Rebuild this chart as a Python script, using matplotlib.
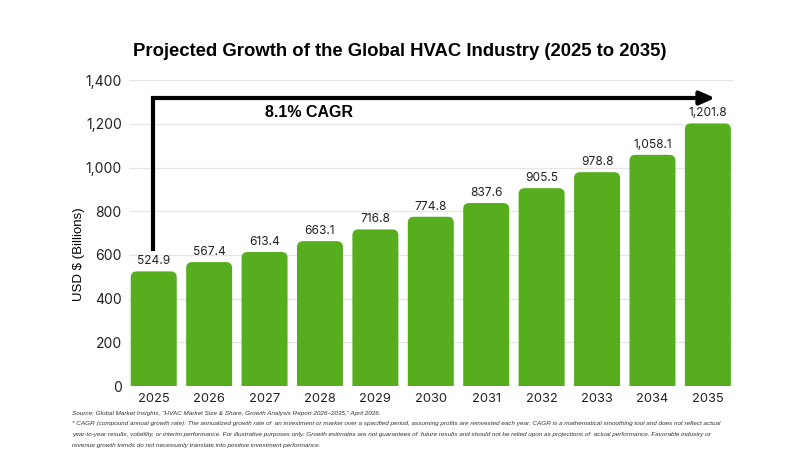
import matplotlib.pyplot as plt
from matplotlib.patches import FancyBboxPatch
from matplotlib.ticker import FuncFormatter, MultipleLocator

# data
years = ["2025", "2026", "2027", "2028", "2029", "2030",
         "2031", "2032", "2033", "2034", "2035"]
market_size = [524.9, 567.4, 613.4, 663.1, 716.8, 774.8,
               837.6, 905.5, 978.8, 1058.1, 1201.8]
cagr_label = "8.1% CAGR"
title = "Projected Growth of the Global HVAC Industry (2025 to 2035)"
source_note = 'Source: Global Market Insights, "HVAC Market Size & Share, Growth Analysis Report 2026\u20132035," April 2026.'
cagr_note = ("* CAGR (compound annual growth rate): The annualized growth rate of  an investment or market over a specified period, "
             "assuming profits are reinvested each year. CAGR is a mathematical smoothing tool and does not reflect actual\n"
             "year-to-year results, volatility, or interim performance. For illustrative purposes only. Growth estimates are not "
             "guarantees of  future results and should not be relied upon as projections of  actual performance. Favorable industry or\n"
             "revenue growth trends do not necessarily translate into positive investment performance.")

bar_color = "#56ad1e"
num_font = "Inter"

fig = plt.figure(figsize=(8, 4.5), dpi=100)
ax = fig.add_axes([0.161, 0.142, 0.755, 0.680])

x = list(range(len(years)))
width = 0.83
ymax = 1400

# bars with rounded tops (bottom clipped by the axes)
for xi, v in zip(x, market_size):
    p = FancyBboxPatch((xi - width / 2, -60), width, v + 60,
                       boxstyle="round,pad=0,rounding_size=0.11",
                       mutation_aspect=250, facecolor=bar_color,
                       edgecolor="none", zorder=3)
    ax.add_patch(p)
    ax.annotate(f"{v:,.1f}", (xi, v), xytext=(0, 3), textcoords="offset points",
                ha="center", va="bottom", fontsize=8.6, family=num_font,
                color="#222222", zorder=4)

ax.set_xlim(-0.45, len(years) - 0.55)
ax.set_ylim(0, ymax)
ax.set_xticks(x)
ax.set_xticklabels(years, family=num_font, fontsize=9.3)
ax.yaxis.set_major_locator(MultipleLocator(200))
ax.yaxis.set_major_formatter(FuncFormatter(lambda v, _: f"{v:,.0f}"))
for lbl in ax.get_yticklabels():
    lbl.set_family(num_font)
    lbl.set_fontsize(10)
ax.tick_params(length=0, pad=5, colors="#222222")
ax.grid(axis="y", color="#e6e6e6", linewidth=1, zorder=0)
for s in ax.spines.values():
    s.set_visible(False)

ax.set_ylabel("USD $ (Billions)", family="Liberation Sans", fontsize=9.5)
ax.yaxis.set_label_coords(-0.073, 0.43)

# CAGR arrow
ax.plot([-0.02, -0.02, 10.0], [620, 1318, 1318], color="black", lw=3,
        solid_joinstyle="miter", solid_capstyle="butt", zorder=5, clip_on=False)
ax.annotate("", xy=(10.18, 1318), xytext=(9.85, 1318),
            arrowprops=dict(arrowstyle="-|>,head_length=0.9,head_width=0.4",
                            color="black", lw=3), annotation_clip=False, zorder=5)
ax.text(2.8, 1250, cagr_label, ha="center", va="center", fontsize=11.5,
        fontweight="bold", family="Liberation Sans")

fig.text(0.5, 0.885, title, ha="center", va="center", fontsize=13.3,
         fontweight="bold", family="Liberation Sans")

fig.text(0.09, 0.081, source_note, ha="left", va="center", fontsize=4.6,
         style="italic", family="Liberation Sans", color="#333333")
fig.text(0.09, 0.064, cagr_note, ha="left", va="top", fontsize=4.6,
         style="italic", family="Liberation Sans", color="#333333", linespacing=2.45)

plt.savefig("out.png", dpi=100)
